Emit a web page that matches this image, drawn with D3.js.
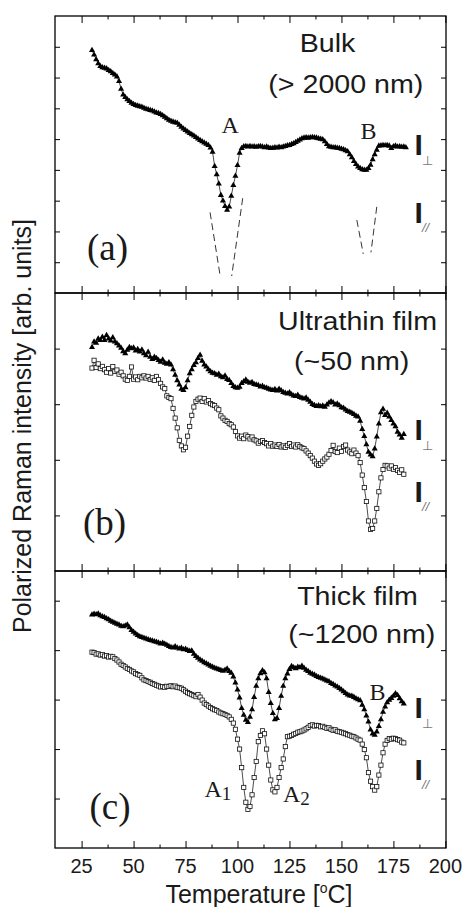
<!DOCTYPE html>
<html>
<head>
<meta charset="utf-8">
<script src="https://cdn.jsdelivr.net/npm/d3@7"></script>
<style>
  body { margin: 0; background: #fff; }
  svg { display: block; }
</style>
</head>
<body>
<svg></svg>
<script>
// Measurement temperatures (deg C), 1 degree steps
let tempsBulk = d3.range(30, 182);
let temps = d3.range(30, 181);

// (a) Bulk, perpendicular intensity (arb. units, panel scale 0-90)
let bulkPerp = [
  78.9, 77.4, 75.9, 74.6, 73.7, 73.3, 73.1, 72.9, 72.4, 72.0,
  71.4, 70.9, 70.3, 68.8, 66.3, 64.4, 63.6, 62.9, 62.3, 61.7,
  61.3, 61.0, 60.8, 60.6, 60.4, 60.1, 59.8, 59.6, 59.4, 59.2,
  58.9, 58.6, 58.4, 58.1, 57.7, 57.2, 56.7, 56.2, 55.9, 55.6,
  55.4, 55.2, 54.6, 53.9, 53.4, 52.9, 52.4, 51.9, 51.5, 51.1,
  50.6, 50.1, 49.6, 49.2, 48.8, 48.4, 48.0, 47.2, 45.8, 41.2,
  38.5, 35.5, 31.8, 30.0, 28.2, 27.0, 28.0, 31.5, 35.0, 38.0,
  41.5, 45.5, 47.0, 47.6, 47.7, 47.5, 47.7, 47.5, 47.6, 47.4,
  47.6, 47.7, 47.5, 47.3, 47.5, 47.2, 47.0, 47.1, 47.3, 47.2,
  47.4, 47.3, 47.5, 47.7, 47.9, 48.0, 48.3, 48.6, 49.0, 49.4,
  49.8, 50.2, 50.4, 50.5, 50.4, 50.5, 50.6, 50.5, 50.4, 50.2,
  50.0, 49.9, 49.2, 48.3, 47.6, 47.4, 47.3, 47.3, 47.1, 47.0,
  46.8, 46.6, 46.3, 46.0, 45.0, 44.0, 42.8, 41.8, 41.0, 40.5,
  40.1, 40.0, 40.0, 40.5, 41.6, 43.4, 45.0, 46.5, 47.8, 47.9,
  48.0, 47.9, 48.0, 47.8, 47.0, 47.6, 47.8, 47.5, 47.6, 47.4,
  47.5, 47.3
];

// (a) Bulk, parallel intensity: only the dashed dip guides [[T, I], [T, I]]
let bulkParDips = [
  [[86.8, 26.2], [91.6, 5.8]],
  [[102.5, 30.8], [97.2, 5.5]],
  [[157.4, 23.7], [160.5, 12.7]],
  [[167.0, 28.0], [164.2, 13.2]]
];

// (b) Ultrathin film (panel scale 0-100)
let ultraPerp = [
  80.5, 82.5, 82.0, 83.5, 83.0, 84.2, 83.0, 84.8, 83.5, 82.8,
  84.0, 82.5, 81.8, 81.0, 80.2, 79.0, 78.2, 79.5, 80.5, 80.0,
  80.3, 79.2, 79.8, 78.9, 79.6, 78.2, 77.5, 78.8, 77.0, 76.2,
  77.0, 76.5, 75.8, 75.2, 76.0, 74.8, 74.5, 75.0, 74.2, 72.5,
  70.5, 68.5, 67.0, 65.5, 65.0, 66.0, 68.5, 71.0, 72.5, 74.0,
  75.0, 76.5, 77.7, 75.5, 74.2, 73.5, 72.5, 71.8, 71.2, 71.0,
  70.5, 70.9, 70.0, 69.6, 70.2, 69.0, 68.6, 67.5, 66.5, 66.0,
  65.8, 66.2, 67.5, 68.2, 68.8, 68.0, 67.6, 67.9, 67.2, 67.0,
  66.8, 66.3, 66.5, 66.0, 65.8, 65.5, 65.2, 65.0, 65.4, 64.8,
  65.5, 64.9, 64.3, 64.0, 63.8, 64.2, 63.5, 63.0, 62.9, 63.3,
  62.5, 62.2, 62.0, 62.3, 61.5, 60.8, 60.0, 59.6, 59.3, 59.5,
  59.2, 59.4, 59.0, 59.8, 60.5, 61.0, 60.6, 59.8, 60.2, 59.5,
  58.8, 58.6, 58.0, 57.5, 57.2, 56.8, 56.4, 55.8, 55.5, 54.0,
  51.0, 48.5, 45.5, 42.8, 41.8, 41.2, 44.0, 48.3, 53.0, 57.0,
  58.3, 56.0, 56.8, 55.5, 54.2, 53.0, 52.0, 50.0, 49.0, 47.8,
  49.2
];
let ultraPar = [
  73.0, 75.8, 73.2, 74.5, 72.8, 73.6, 72.4, 71.5, 72.8, 71.2,
  73.5, 71.8, 72.3, 70.8, 71.5, 70.2, 69.0, 68.6, 70.0, 73.4,
  69.0, 69.8, 68.8, 70.0, 69.5, 70.2, 69.4, 70.0, 68.9, 69.5,
  68.6, 70.0, 68.8, 67.5, 66.2, 65.6, 63.0, 62.4, 62.0, 58.5,
  55.0, 51.5, 47.0, 45.0, 43.6, 44.5, 48.5, 52.0, 56.0, 59.0,
  61.0, 61.8, 62.2, 61.0, 62.0, 60.8, 61.3, 60.2, 59.8, 59.5,
  58.6, 58.0, 55.8, 55.0, 54.2, 53.8, 53.0, 52.6, 51.8, 50.2,
  48.6, 47.8, 48.5, 47.6, 48.9, 48.3, 47.5, 48.2, 47.2, 46.8,
  46.0, 46.6, 46.9, 46.2, 45.8, 45.0, 45.8, 44.9, 45.3, 44.8,
  45.5, 44.6, 45.0, 44.5, 45.2, 45.8, 44.8, 45.3, 44.6, 45.4,
  44.8, 44.3, 44.0, 43.2, 42.4, 41.5, 40.6, 39.5, 38.5, 38.0,
  38.6, 39.5, 40.3, 41.0, 42.0, 43.3, 45.2, 43.0, 42.6, 44.2,
  43.0, 44.8, 45.3, 43.5, 42.8, 42.2, 43.5, 42.4, 41.5, 39.0,
  34.5, 30.0, 25.0, 18.0, 15.0, 15.3, 18.0, 22.5, 28.5, 33.5,
  36.5, 38.0, 37.8, 37.0, 37.8, 36.6, 37.2, 36.2, 35.5, 36.4,
  34.8
];

// (c) Thick film (panel scale 0-112)
let thickPerp = [
  94.3, 94.6, 94.4, 94.7, 94.0, 93.6, 93.3, 92.8, 92.4, 91.8,
  91.4, 91.0, 90.6, 90.3, 89.8, 89.6, 89.9, 90.3, 89.2, 88.0,
  87.3, 86.6, 86.0, 85.5, 85.2, 84.9, 84.6, 84.3, 84.0, 83.8,
  83.5, 83.3, 83.0, 82.6, 82.9, 82.5, 82.1, 81.6, 81.2, 81.0,
  81.5, 81.0, 80.6, 80.9, 80.3, 80.5, 80.0, 79.6, 79.8, 78.4,
  77.5, 76.8, 76.1, 75.6, 75.0, 74.6, 74.1, 73.6, 73.2, 72.8,
  72.5, 72.2, 71.9, 71.6, 72.0, 72.5, 71.5, 70.8, 69.2, 66.8,
  64.0, 60.8, 56.5, 53.8, 51.8, 50.8, 53.0, 56.0, 61.0, 65.5,
  68.5, 70.6, 71.8, 71.0, 68.5, 63.0, 58.5, 54.5, 52.0, 52.5,
  56.5, 61.5, 65.5, 68.5, 70.5, 72.3, 73.5, 73.0, 72.6, 73.2,
  73.0, 73.6, 72.8, 72.0, 71.5, 70.8, 70.4, 70.0, 69.4, 69.0,
  68.7, 68.4, 68.0, 67.6, 67.3, 66.6, 66.2, 65.6, 65.2, 64.6,
  64.0, 63.3, 62.6, 62.0, 61.6, 61.5, 61.0, 60.4, 60.0, 59.6,
  57.8, 56.0, 53.5, 51.0, 47.8, 46.2, 45.7, 47.0, 49.2, 52.0,
  55.0, 57.1, 58.8, 59.8, 60.6, 61.5, 62.5, 61.8, 60.5, 59.2,
  58.3
];
let thickPar = [
  79.2, 79.0, 78.4, 78.5, 78.0, 78.2, 77.6, 77.8, 77.2, 77.5,
  77.3, 76.6, 76.0, 75.2, 74.3, 73.8, 73.2, 72.6, 72.2, 71.6,
  71.2, 70.5, 70.1, 69.8, 68.8, 68.0, 67.7, 67.3, 67.0, 66.5,
  66.2, 65.8, 65.5, 65.1, 65.3, 65.0, 65.4, 65.3, 65.6, 65.2,
  65.5, 65.0, 64.8, 64.6, 64.0, 63.4, 62.8, 62.4, 62.0, 61.6,
  61.2, 62.0, 61.0, 59.8, 58.6, 58.0, 57.4, 56.8, 56.3, 55.9,
  55.6, 55.0, 54.6, 54.3, 54.0, 53.6, 53.0, 52.0, 50.5, 48.0,
  44.0, 40.0, 32.5, 24.5, 18.5, 15.6, 16.8, 21.5, 28.5, 35.0,
  43.0, 45.5, 47.4, 46.2, 40.0, 33.5, 27.5, 23.5, 22.7, 24.5,
  28.5, 32.5, 36.0, 41.0, 45.0, 45.2, 45.5, 46.0, 46.3, 46.8,
  47.0, 47.3, 47.7, 48.2, 48.8, 49.5, 49.8, 49.3, 49.6, 49.5,
  49.0, 49.2, 48.8, 48.4, 48.6, 48.0, 47.6, 47.8, 47.2, 47.0,
  46.8, 46.5, 46.2, 45.8, 45.6, 45.2, 45.0, 44.5, 44.0, 43.6,
  42.0, 39.8, 36.5, 30.5, 27.0, 24.8, 23.4, 24.8, 29.5, 33.5,
  38.5, 42.0, 43.5, 44.2, 44.0, 44.4, 44.2, 43.8, 43.6, 42.8,
  42.5
];

// Tick values
let xMajor = [25, 50, 75, 100, 125, 150, 175, 200];
let xMinor = [37.5, 62.5, 87.5, 112.5, 137.5, 162.5, 187.5];

// SVG dimensions
let width = 467, height = 907;
let left = 55, right = 446;
let svg = d3.select('svg').attr('width', width).attr('height', height);

let xScale = d3.scaleLinear().domain([12.2, 200.3]).range([left, right]);

let sans = '"Liberation Sans", Arial, Helvetica, sans-serif';
let serif = '"Liberation Serif", "Times New Roman", serif';
let ink = '#1a1a1a';

let panels = [
  {
    top: 16, bottom: 293, yMax: 90, yTicks: [10, 20, 30, 40, 50, 60, 70, 80],
    perp: bulkPerp, perpTemps: tempsBulk, par: null, dips: bulkParDips,
    title: [['Bulk', 327.5, 52.3], ['(> 2000 nm)', 345.8, 93.3]],
    letter: ['(a)', 87, 260],
    iPerp: 155, iPar: 223.3
  },
  {
    top: 293, bottom: 571, yMax: 100, yTicks: [20, 40, 60, 80],
    perp: ultraPerp, perpTemps: temps, par: ultraPar, dips: [],
    title: [['Ultrathin film', 357.5, 330], ['(~50 nm)', 351.7, 370]],
    letter: ['(b)', 83, 535],
    iPerp: 440, iPar: 501.7
  },
  {
    top: 571, bottom: 848, yMax: 112, yTicks: [20, 40, 60, 80, 100],
    perp: thickPerp, perpTemps: temps, par: thickPar, dips: [],
    title: [['Thick film', 357.5, 605], ['(~1200 nm)', 361.7, 643.3]],
    letter: ['(c)', 89.5, 819],
    iPerp: 718.3, iPar: 780
  }
];

let triangle = d3.symbol().type(d3.symbolTriangle).size(16);

function styleTicks(g) {
  g.select('.domain').remove();
  g.selectAll('.tick line').attr('stroke', '#000').attr('stroke-width', 1);
}

// Draw each panel
panels.forEach((p) => {
  let yScale = d3.scaleLinear().domain([0, p.yMax]).range([p.bottom, p.top]);
  let g = svg.append('g');

  // Inward ticks on all four sides
  g.append('g').attr('transform', `translate(0,${p.bottom})`)
    .call(d3.axisBottom(xScale).tickValues(xMajor).tickSize(-7).tickFormat('')).call(styleTicks);
  g.append('g').attr('transform', `translate(0,${p.bottom})`)
    .call(d3.axisBottom(xScale).tickValues(xMinor).tickSize(-3.5).tickFormat('')).call(styleTicks);
  g.append('g').attr('transform', `translate(0,${p.top})`)
    .call(d3.axisTop(xScale).tickValues(xMajor).tickSize(-7).tickFormat('')).call(styleTicks);
  g.append('g').attr('transform', `translate(0,${p.top})`)
    .call(d3.axisTop(xScale).tickValues(xMinor).tickSize(-3.5).tickFormat('')).call(styleTicks);
  g.append('g').attr('transform', `translate(${left},0)`)
    .call(d3.axisLeft(yScale).tickValues(p.yTicks).tickSize(-5).tickFormat('')).call(styleTicks);
  g.append('g').attr('transform', `translate(${right},0)`)
    .call(d3.axisRight(yScale).tickValues(p.yTicks).tickSize(-5).tickFormat('')).call(styleTicks);

  // Frame
  g.append('rect')
    .attr('x', left).attr('y', p.top)
    .attr('width', right - left).attr('height', p.bottom - p.top)
    .attr('fill', 'none').attr('stroke', '#000').attr('stroke-width', 1.3);

  let line = d3.line()
    .x((d) => xScale(d[0]))
    .y((d) => yScale(d[1]));

  // Parallel series (open squares)
  if (p.par) {
    let pts = temps.map((t, i) => [t, p.par[i]]);
    g.append('path').datum(pts)
      .attr('d', line).attr('fill', 'none')
      .attr('stroke', '#000').attr('stroke-width', 0.7);
    g.selectAll('.sq').data(pts).enter().append('rect')
      .attr('class', 'sq')
      .attr('x', (d) => xScale(d[0]) - 2.1)
      .attr('y', (d) => yScale(d[1]) - 2.1)
      .attr('width', 4.2).attr('height', 4.2)
      .attr('fill', '#fff').attr('stroke', '#111').attr('stroke-width', 0.8);
  }

  // Dashed dip guides
  p.dips.forEach((seg) => {
    g.append('path').datum(seg)
      .attr('d', line).attr('fill', 'none')
      .attr('stroke', '#000').attr('stroke-width', 0.8)
      .attr('stroke-dasharray', '7,4');
  });

  // Perpendicular series (filled triangles)
  let perpPts = p.perpTemps.map((t, i) => [t, p.perp[i]]);
  g.append('path').datum(perpPts)
    .attr('d', line).attr('fill', 'none')
    .attr('stroke', '#000').attr('stroke-width', 0.7);
  g.selectAll('.tri').data(perpPts).enter().append('path')
    .attr('class', 'tri')
    .attr('d', triangle)
    .attr('transform', (d) => `translate(${xScale(d[0])},${yScale(d[1])})`)
    .attr('fill', '#000');

  // Sample titles
  p.title.forEach(([txt, cx, by]) => {
    g.append('text')
      .attr('transform', `translate(${cx},${by}) scale(1.1,1)`)
      .attr('text-anchor', 'middle')
      .style('font-family', sans).style('font-size', '26px')
      .attr('fill', ink)
      .text(txt);
  });

  // Panel letter
  g.append('text')
    .attr('x', p.letter[1]).attr('y', p.letter[2])
    .style('font-family', serif).style('font-size', '37px')
    .attr('fill', ink)
    .text(p.letter[0]);

  // Polarisation labels
  [[p.iPerp, '\u22A5', 'DejaVu Sans', 10], [p.iPar, '//', sans, 9]].forEach(([by, sub, fam, dy]) => {
    g.append('text')
      .attr('x', 414.5).attr('y', by)
      .style('font-family', sans).style('font-size', '30px').style('font-weight', 'bold')
      .attr('fill', ink)
      .text('I');
    g.append('text')
      .attr('x', 422).attr('y', by + dy)
      .style('font-family', fam).style('font-size', '13px')
      .style('font-style', sub === '//' ? 'italic' : 'normal')
      .attr('fill', '#777')
      .text(sub);
  });
});

// Peak labels
function peakLabel(txt, x, y, sub) {
  let t = svg.append('text')
    .attr('x', x).attr('y', y)
    .style('font-family', serif).style('font-size', '24px')
    .attr('fill', ink)
    .text(txt);
  if (sub) {
    t.append('tspan').attr('dy', 3.5).style('font-size', '19px').text(sub);
  }
}
peakLabel('A', 221.5, 132.7);
peakLabel('B', 360.5, 139.3);
peakLabel('B', 369.5, 700);
peakLabel('A', 204.5, 796.7, '1');
peakLabel('A', 283, 801.7, '2');

// X tick labels under the bottom panel
svg.append('g').selectAll('text').data(xMajor).enter().append('text')
  .attr('x', (d) => xScale(d))
  .attr('y', 873)
  .attr('text-anchor', 'middle')
  .style('font-family', sans).style('font-size', '20px')
  .attr('fill', ink)
  .text((d) => d);

// X axis title
let xt = svg.append('text')
  .attr('x', 259).attr('y', 902.5)
  .attr('text-anchor', 'middle')
  .style('font-family', sans).style('font-size', '25px')
  .attr('fill', ink);
xt.append('tspan').text('Temperature [');
xt.append('tspan').attr('dy', -10).style('font-size', '14px').text('o');
xt.append('tspan').attr('dy', 10).text('C]');

// Y axis title
svg.append('text')
  .attr('transform', 'translate(31,426) rotate(-90)')
  .attr('text-anchor', 'middle')
  .style('font-family', sans).style('font-size', '25px')
  .attr('fill', ink)
  .text('Polarized Raman intensity [arb. units]');
</script>
</body>
</html>
